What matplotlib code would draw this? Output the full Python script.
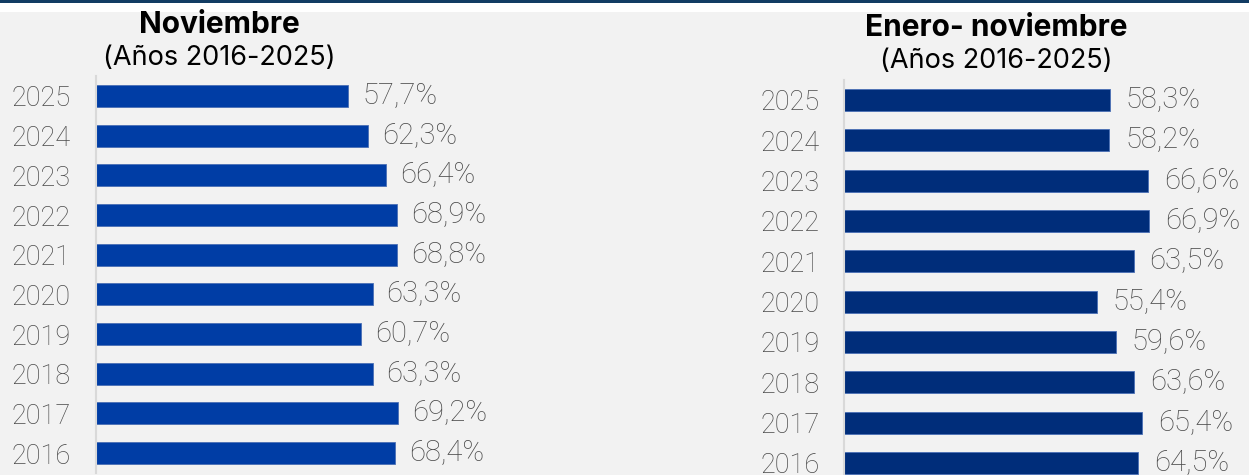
import matplotlib.pyplot as plt
from matplotlib.patches import Rectangle

# Datos
anios = ["2016", "2017", "2018", "2019", "2020", "2021", "2022", "2023", "2024", "2025"]
noviembre = [68.4, 69.2, 63.3, 60.7, 63.3, 68.8, 68.9, 66.4, 62.3, 57.7]
enero_noviembre = [64.5, 65.4, 63.6, 59.6, 55.4, 63.5, 66.9, 66.6, 58.2, 58.3]

W, H = 1249, 475
fondo = "#f2f2f2"
gris_texto = "#4a4a4a"

fig = plt.figure(figsize=(W / 100, H / 100), dpi=100, facecolor=fondo)

# franja superior
fig.patches.append(Rectangle((0, 1 - 12 / H), 1, 12 / H, transform=fig.transFigure,
                             facecolor="white", edgecolor="none", zorder=0))
fig.patches.append(Rectangle((0, 1 - 3 / H), 1, 3 / H, transform=fig.transFigure,
                             facecolor="#123c63", edgecolor="none", zorder=1))


def panel(x0, escala, y_top, paso, valores, color, titulo, tx, ty, sty, off, pad):
    # ejes colocados en pixeles
    alto = paso * 10
    top = y_top - paso / 2
    ax = fig.add_axes([x0 / W, 1 - (top + alto) / H, escala * 100 / W, alto / H])
    ax.set_facecolor("none")
    pos = list(range(len(anios)))
    ax.barh(pos, valores, height=22 / paso, color=color, edgecolor="#4a6fb5", linewidth=0.6)
    ax.set_xlim(0, 100)
    ax.set_ylim(-0.5, 9.5)
    for s in ["top", "right", "bottom"]:
        ax.spines[s].set_visible(False)
    ax.spines["left"].set_color("#d9d9d9")
    ax.spines["left"].set_linewidth(1.5)
    ax.set_xticks([])
    ax.set_yticks(pos)
    ax.set_yticklabels(anios, fontsize=19.5, color=gris_texto, family="Roboto", fontweight="light")
    ax.tick_params(axis="y", length=0, pad=pad)
    for p, v in zip(pos, valores):
        ax.annotate(f"{v:.1f}%".replace(".", ","), (v, p), xytext=(off, 0),
                    textcoords="offset pixels", va="center", ha="left",
                    fontsize=21, color=gris_texto, family="Roboto", fontweight="light")
    fig.text(tx / W, 1 - ty / H, titulo, ha="center", va="center", fontsize=21.5,
             fontweight="bold", family="Inter", color="black")
    fig.text(tx / W, 1 - sty / H, "(Años 2016-2025)", ha="center", va="center",
             fontsize=19.5, family="Inter", color="black")
    return ax


panel(96, 4.37, 96, 39.67, noviembre, "#003da5", "Noviembre", 219, 25, 58, 14, 18.5)
panel(844, 4.56, 100, 40.33, enero_noviembre, "#002d7a", "Enero- noviembre", 996, 28, 61, 16, 17.5)

fig.savefig("out.png", dpi=100, facecolor=fondo)
